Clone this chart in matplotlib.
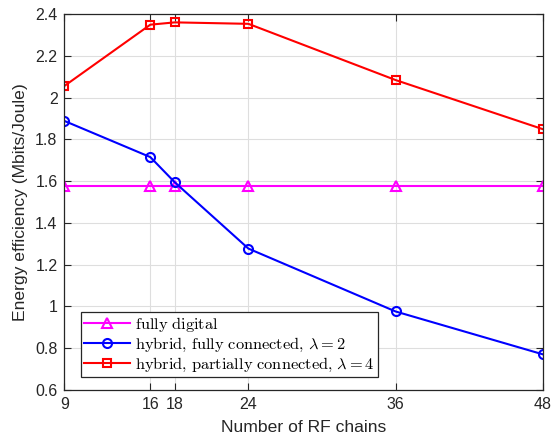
import matplotlib
matplotlib.use("Agg")
import matplotlib.pyplot as plt

rf_chains = [9, 16, 18, 24, 36, 48]
fully_digital = [1.576, 1.576, 1.576, 1.576, 1.576, 1.576]
hybrid_fully = [1.888, 1.715, 1.594, 1.277, 0.976, 0.771]
hybrid_partial = [2.056, 2.349, 2.360, 2.353, 2.084, 1.849]
labels = [r'$\mathrm{fully\ digital}$',
          r'$\mathrm{hybrid{,}\ fully\ connected{,}}\ \lambda=2$',
          r'$\mathrm{hybrid{,}\ partially\ connected{,}}\ \lambda=4$']
yticks = [0.6, 0.8, 1.0, 1.2, 1.4, 1.6, 1.8, 2.0, 2.2, 2.4]
ytick_labels = ['0.6', '0.8', '1', '1.2', '1.4', '1.6', '1.8', '2', '2.2', '2.4']

plt.rcParams['font.family'] = ['Liberation Sans', 'DejaVu Sans']
plt.rcParams['mathtext.fontset'] = 'cm'

fig = plt.figure(figsize=(5.56, 4.38), dpi=100)
ax = fig.add_axes([0.116, 0.1096, 0.86, 0.8584])

dark = '#262626'
ax.plot(rf_chains, fully_digital, color='#ff00ff', lw=1.5, marker='^', ms=7,
        mfc='none', mew=1.5, label=labels[0])
ax.plot(rf_chains, hybrid_fully, color='#0000ff', lw=1.5, marker='o', ms=6.5,
        mfc='none', mew=1.5, label=labels[1])
ax.plot(rf_chains, hybrid_partial, color='#ff0000', lw=1.5, marker='s', ms=5.2,
        mfc='none', mew=1.5, label=labels[2])

ax.set_xlim(9, 48)
ax.set_ylim(0.6, 2.4)
ax.set_xticks(rf_chains)
ax.set_yticks(yticks)
ax.set_yticklabels(ytick_labels)
ax.grid(True, color='#dedede', lw=0.8)
ax.set_axisbelow(True)
ax.tick_params(direction='in', top=True, right=True, length=5, width=0.8,
               colors=dark, labelsize=11.5, pad=5)
for s in ax.spines.values():
    s.set_color(dark)
    s.set_linewidth(0.9)
ax.set_xlabel('Number of RF chains', fontsize=12.6, color=dark, labelpad=6)
ax.set_ylabel('Energy efficiency (Mbits/Joule)', fontsize=12.6, color=dark, labelpad=5)

leg = ax.legend(loc='lower left', bbox_to_anchor=(0.0345, 0.035), fontsize=11.8,
                frameon=True, fancybox=False, edgecolor=dark, framealpha=1,
                handlelength=2.8, handletextpad=0.3, borderpad=0.2,
                labelspacing=0.1, borderaxespad=0)
leg.get_frame().set_linewidth(0.9)

fig.savefig('out.png', dpi=100)
